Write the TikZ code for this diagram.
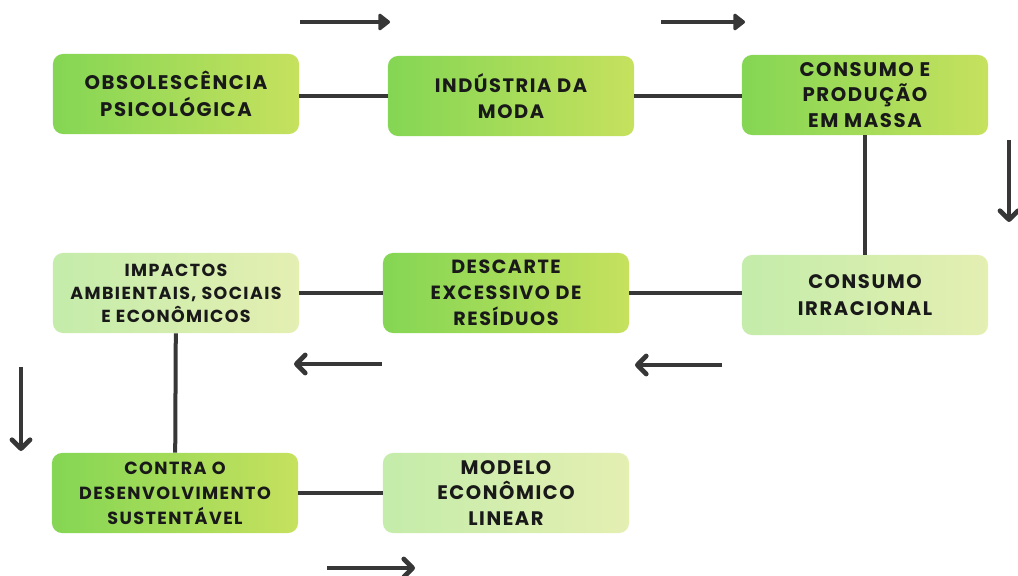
\documentclass[tikz,border=0pt]{standalone}
\usepackage{fontspec}
\setmainfont{Poppins}[LetterSpace=8]
\usetikzlibrary{arrows.meta}

\definecolor{darkA}{RGB}{132,214,84}
\definecolor{darkB}{RGB}{198,225,94}
\definecolor{lightA}{RGB}{196,236,170}
\definecolor{lightB}{RGB}{228,239,178}
\definecolor{linegray}{RGB}{55,55,55}
\newcommand\boxfont[2]{\bfseries\fontsize{#1}{#2}\selectfont}

\begin{document}
\begin{tikzpicture}[x=0.025cm,y=-0.025cm,
  box/.style={rounded corners=0.25cm, minimum width=6.15cm, minimum height=2cm,
    inner sep=0pt, align=center, text=black!90, font=\boxfont{13.6}{18.5}},
  darkbox/.style={box, left color=darkA, right color=darkB},
  lightbox/.style={box, left color=lightA, right color=lightB},
  link/.style={linegray, line width=0.1cm},
  flow/.style={linegray, line width=0.12cm, -{Triangle[length=0.32cm,width=0.48cm,round]}},
  back/.style={linegray, line width=0.12cm, -{Straight Barb[length=0.22cm,width=0.45cm,round]}}]
\useasboundingbox (0,0) rectangle (1018,576);
% boxes
\node [darkbox, font=\boxfont{14}{19}] (obso) at (176,94) {OBSOLESCÊNCIA\\PSICOLÓGICA};
\node [darkbox, font=\boxfont{13.8}{19}] (moda) at (511,96) {INDÚSTRIA DA\\MODA};
\node [darkbox, font=\boxfont{14}{18}] (massa) at (865,95) {CONSUMO E\\PRODUÇÃO\\EM MASSA};
\node [lightbox, font=\boxfont{12.4}{16.4}] (impac) at (176,293) {IMPACTOS\\AMBIENTAIS, SOCIAIS\\E ECONÔMICOS};
\node [darkbox] (desc) at (506,293) {DESCARTE\\EXCESSIVO DE\\RESÍDUOS};
\node [lightbox, font=\boxfont{13.9}{19}] (irrac) at (865,295) {CONSUMO\\IRRACIONAL};
\node [darkbox, font=\boxfont{12.5}{17.8}] (contra) at (175,493) {CONTRA O\\DESENVOLVIMENTO\\SUSTENTÁVEL};
\node [lightbox, font=\boxfont{13.9}{18.2}] (linear) at (506,493) {MODELO\\ECONÔMICO\\LINEAR};
% links
\draw [link] (obso.east |- moda) -- (moda);
\draw [link] (moda) -- (massa.west |- moda);
\draw [link] (massa) -- (irrac);
\draw [link] (irrac.west |- desc) -- (desc);
\draw [link] (desc) -- (impac);
\draw [link] (impac) -- (contra);
\draw [link] (contra) -- (linear);
% direction arrows
\coordinate (t1a) at (300,22); \coordinate (t1b) at (390,22);
\coordinate (t2a) at (661,22); \coordinate (t2b) at (745,22);
\coordinate (r1a) at (1009,140); \coordinate (r1b) at (1009,222);
\coordinate (m1a) at (382,364); \coordinate (m1b) at (294,364);
\coordinate (m2a) at (722,365); \coordinate (m2b) at (635,365);
\coordinate (l1a) at (21,367); \coordinate (l1b) at (21,451);
\coordinate (b1a) at (327,568); \coordinate (b1b) at (415,568);
\draw [flow] (t1a) -- (t1b);
\draw [flow] (t2a) -- (t2b);
\draw [back] (r1a) -- (r1b);
\draw [back] (m1a) -- (m1b);
\draw [back] (m2a) -- (m2b);
\draw [back] (l1a) -- (l1b);
\draw [back] (b1a) -- (b1b);
\end{tikzpicture}
\end{document}
